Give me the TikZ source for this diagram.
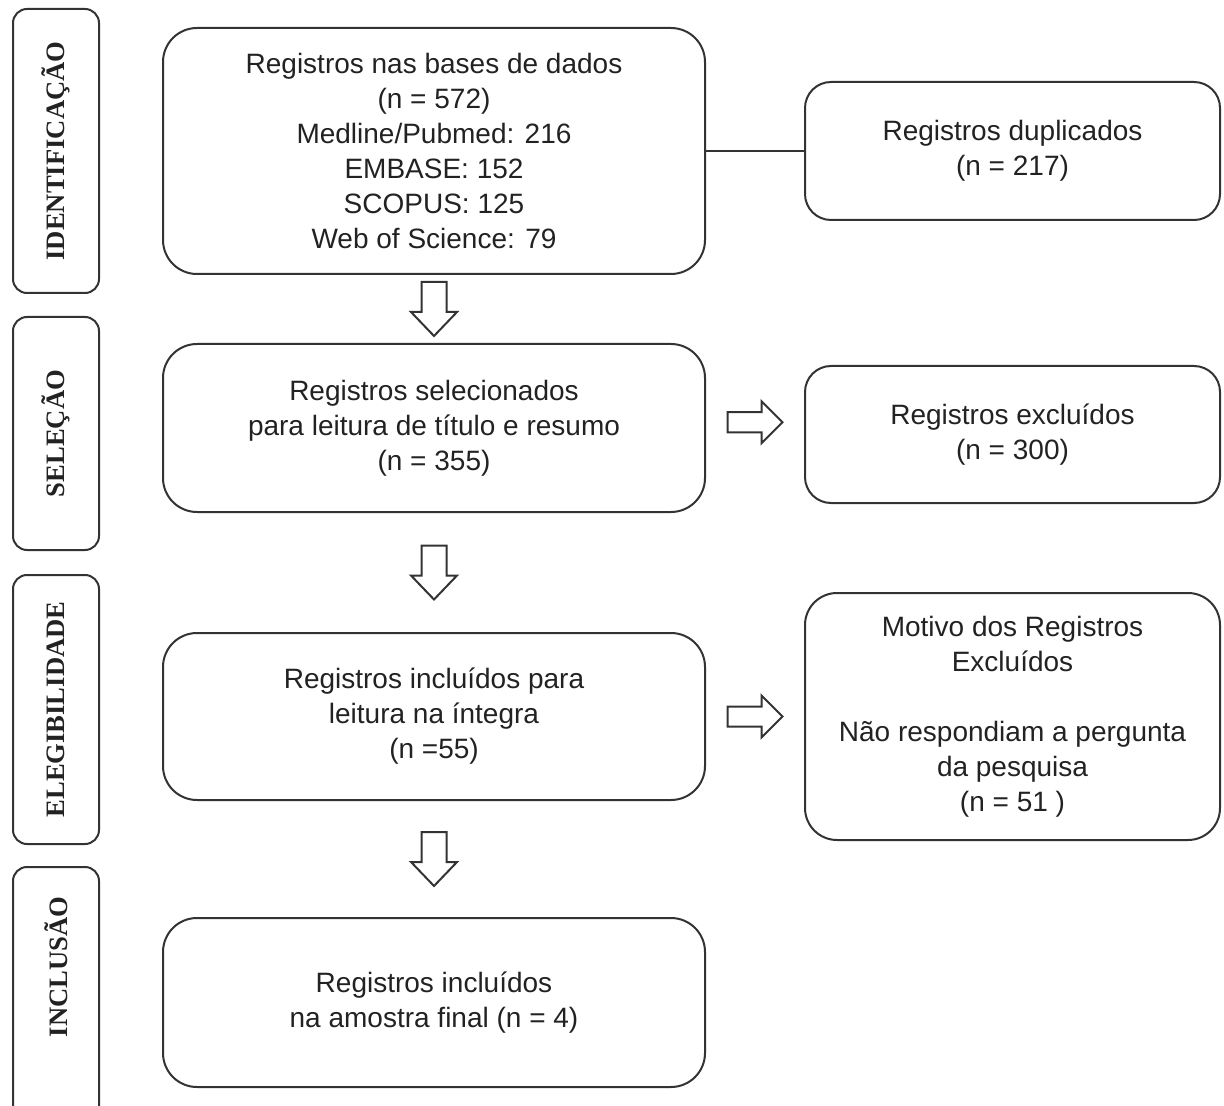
\documentclass[tikz,border=0pt]{standalone}
\usepackage{fontspec}
\setmainfont{Liberation Sans}
\newfontfamily\phasefont{Liberation Serif}
\usetikzlibrary{calc,positioning}
\definecolor{linecol}{HTML}{333333}
\definecolor{txtcol}{HTML}{222222}
\tikzset{
  phase/.style={draw=linecol, line width=1pt, rounded corners=7pt, rotate=90, minimum height=43pt, inner sep=0pt, text=txtcol, font=\phasefont\bfseries\fontsize{13.3}{16}\selectfont},
  phasetext/.style={rotate=90, inner sep=0pt, text=txtcol, font=\phasefont\bfseries\fontsize{13.3}{16}\selectfont},
  mainbox/.style={draw=linecol, line width=1pt, rounded corners=17pt, minimum width=271pt, align=center, text=txtcol, font=\fontsize{14}{17.5}\selectfont},
  sidebox/.style={mainbox, rounded corners=13pt, minimum width=207.5pt},
  hollow/.style={draw=linecol, line width=1pt, fill=white},
  link/.style={draw=linecol, line width=1pt},
  downblock/.pic={\draw[hollow] (-12.5,-27) -- (12.5,-27) -- (12.5,3) -- (23,3) -- (0,27) -- (-23,3) -- (-12.5,3) -- cycle;},
  rightblock/.pic={\draw[hollow] (-27.5,-10) -- (6.5,-10) -- (6.5,-21) -- (27.5,0) -- (6.5,21) -- (6.5,10) -- (-27.5,10) -- cycle;}
}

\begin{document}
\begin{tikzpicture}[x=0.5pt,y=-0.5pt]
  \useasboundingbox (0,0) rectangle (1224,1106);
  % fases
  \node[phase, minimum width=142pt] (lab1) at (56,151) {IDENTIFICAÇÃO};
  \node[phase, minimum width=116.5pt] (lab2) at (56,433.5) {SELEÇÃO};
  \node[phase, minimum width=134.5pt] (lab3) at (56,709.5) {ELEGIBILIDADE};
  \node[phase, minimum width=131.5pt] (lab4) at (56,998.5) {};
  \node[phasetext] (lab4txt) at (56,967) {INCLUSÃO};
  % coluna central
  \node[mainbox, minimum height=123pt] (m1) at (434,151) {Registros nas bases de dados\\(n = 572)\\Medline/Pubmed: 216\\EMBASE: 152\\SCOPUS: 125\\Web of Science: 79};
  \node[mainbox, minimum height=84pt] (m2) at (434,428) {Registros selecionados\\para leitura de título e resumo\\(n = 355)};
  \node[mainbox, minimum height=83.5pt] (m3) at (434,716.5) {Registros incluídos para\\leitura na íntegra\\(n =55)};
  \node[mainbox, minimum height=84.5pt] (m4) at (434,1002.5) {Registros incluídos\\na amostra final (n = 4)};
  % coluna direita
  \node[sidebox, minimum height=69pt] (r1) at (1012.5,151) {Registros duplicados\\(n = 217)};
  \node[sidebox, minimum height=68.5pt] (r2) at (1012.5,434.5) {Registros excluídos\\(n = 300)};
  \node[sidebox, rounded corners=16pt, minimum height=123.5pt] (r3) at (1012.5,716.5) {Motivo dos Registros\\Excluídos\\[17.5pt]Não respondiam a pergunta\\da pesquisa\\(n = 51 )};
  % ligacoes
  \draw[link] (m1.east) -- (r1.west);
  \pic at ($(m1.south)!0.5!(m2.north)$) {downblock};
  \pic at ($(m2.south)!0.5!(m3.north)$) {downblock};
  \pic at ($(m3.south)!0.5!(m4.north)$) {downblock};
  \pic at ($(m2.east)!0.5!(r2.west)+(0,-9)$) {rightblock};
  \pic at ($(m3.east)!0.5!(r3.west)$) {rightblock};
\end{tikzpicture}
\end{document}
